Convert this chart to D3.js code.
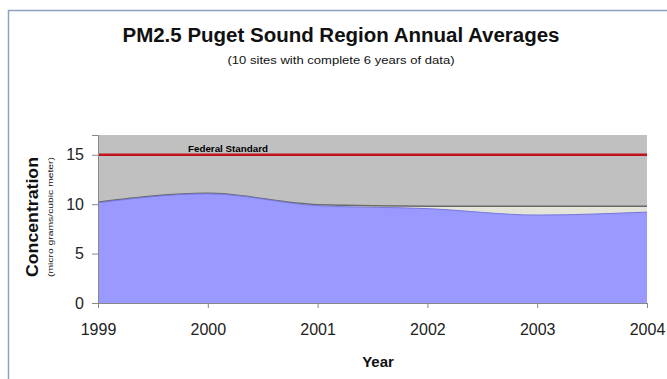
<!DOCTYPE html>
<html><head><meta charset="utf-8">
<script src="https://cdn.jsdelivr.net/npm/d3@7"></script>
<style>body{margin:0;background:#fff;}svg{display:block;font-family:Arial,"Liberation Sans",sans-serif;}</style>
</head><body>
<svg id="c" width="667" height="379"></svg>
<script>
const years = [1999, 2000, 2001, 2002, 2003, 2004];
const tenSiteAvg = [10.15, 11.05, 9.85, 9.55, 8.9, 9.2];
const allSiteAvg = [10.2, 11.1, 9.95, 9.8, 9.8, 9.8];
const federalStandard = 15;
const yTicks = [0, 5, 10, 15];

const svg = d3.select("#c");
const m = {l: 98, r: 647, t: 135, b: 303};
const x = d3.scaleLinear().domain([1999, 2004]).range([m.l, m.r]);
const y = d3.scaleLinear().domain([0, 17]).range([m.b, m.t]);
const FF = "Arial, 'Liberation Sans', sans-serif";

// frame
svg.append("path").attr("d", "M8.5,379 V10.5 H667").attr("fill","none").attr("stroke","#8ea3c2").attr("stroke-width",1.5);

// plot background
svg.append("rect").attr("x", m.l).attr("y", m.t).attr("width", m.r - m.l).attr("height", m.b - m.t).attr("fill", "#c0c0c0");

const data2 = years.map((d,i)=>({x:d, v:allSiteAvg[i]}));
const data1 = years.map((d,i)=>({x:d, v:tenSiteAvg[i]}));
const area = d3.area().x(d=>x(d.x)).y0(y(0)).y1(d=>y(d.v)).curve(d3.curveMonotoneX);
const line = d3.line().x(d=>x(d.x)).y(d=>y(d.v)).curve(d3.curveMonotoneX);

svg.append("path").attr("d", area(data2)).attr("fill", "#e4e4d8");
svg.append("path").attr("d", line(data2)).attr("fill","none").attr("stroke","#6a6a6a").attr("stroke-width",1.5);
svg.append("path").attr("d", area(data1)).attr("fill", "#9999ff");
svg.append("path").attr("d", line(data1)).attr("fill","none").attr("stroke","#7777dd").attr("stroke-width",1);

// federal standard
svg.append("line").attr("x1", m.l).attr("x2", m.r).attr("y1", y(federalStandard)).attr("y2", y(federalStandard))
  .attr("stroke", "#c0141c").attr("stroke-width", 2.5);
svg.append("text").attr("x", 188).attr("y", y(federalStandard) - 3).attr("font-size", 8.5).attr("font-weight","bold")
  .attr("textLength", 80).attr("lengthAdjust","spacingAndGlyphs")
  .attr("fill","#000").text("Federal Standard");

// axes
const yAxis = d3.axisLeft(y).tickValues(yTicks).tickSize(6).tickPadding(8);
const gy = svg.append("g").attr("transform", `translate(${m.l},0)`).call(yAxis);
gy.selectAll("text").attr("font-size", 16).attr("fill","#222").attr("font-family", FF);
gy.selectAll("line,path").attr("stroke","#888");

const xAxis = d3.axisBottom(x).tickValues(years).tickFormat(d3.format("d")).tickSize(5).tickPadding(16);
const gx = svg.append("g").attr("transform", `translate(0,${m.b})`).call(xAxis);
gx.selectAll("text").attr("font-size", 16).attr("fill","#222").attr("font-family", FF);
gx.selectAll("line,path").attr("stroke","#888");

// titles
svg.append("text").attr("x", 341).attr("y", 42).attr("text-anchor","middle").attr("font-size", 20).attr("font-weight","bold")
  .attr("textLength", 437).attr("lengthAdjust","spacingAndGlyphs")
  .attr("fill","#111").text("PM2.5 Puget Sound Region Annual Averages");
svg.append("text").attr("x", 341).attr("y", 64).attr("text-anchor","middle").attr("font-size", 10.5)
  .attr("textLength", 227).attr("lengthAdjust","spacingAndGlyphs")
  .attr("fill","#111").text("(10 sites with complete 6 years of data)");
svg.append("text").attr("x", 378).attr("y", 367).attr("text-anchor","middle").attr("font-size", 15).attr("font-weight","bold")
  .attr("fill","#111").text("Year");
svg.append("text").attr("transform","translate(38,217) rotate(-90)").attr("text-anchor","middle").attr("font-size", 17).attr("font-weight","bold")
  .attr("textLength", 120).attr("lengthAdjust","spacingAndGlyphs")
  .attr("fill","#111").text("Concentration");
svg.append("text").attr("transform","translate(53,217) rotate(-90)").attr("text-anchor","middle").attr("font-size", 7.5)
  .attr("textLength", 120).attr("lengthAdjust","spacingAndGlyphs")
  .attr("fill","#111").text("(micro grams/cubic meter)");
</script>
</body></html>
